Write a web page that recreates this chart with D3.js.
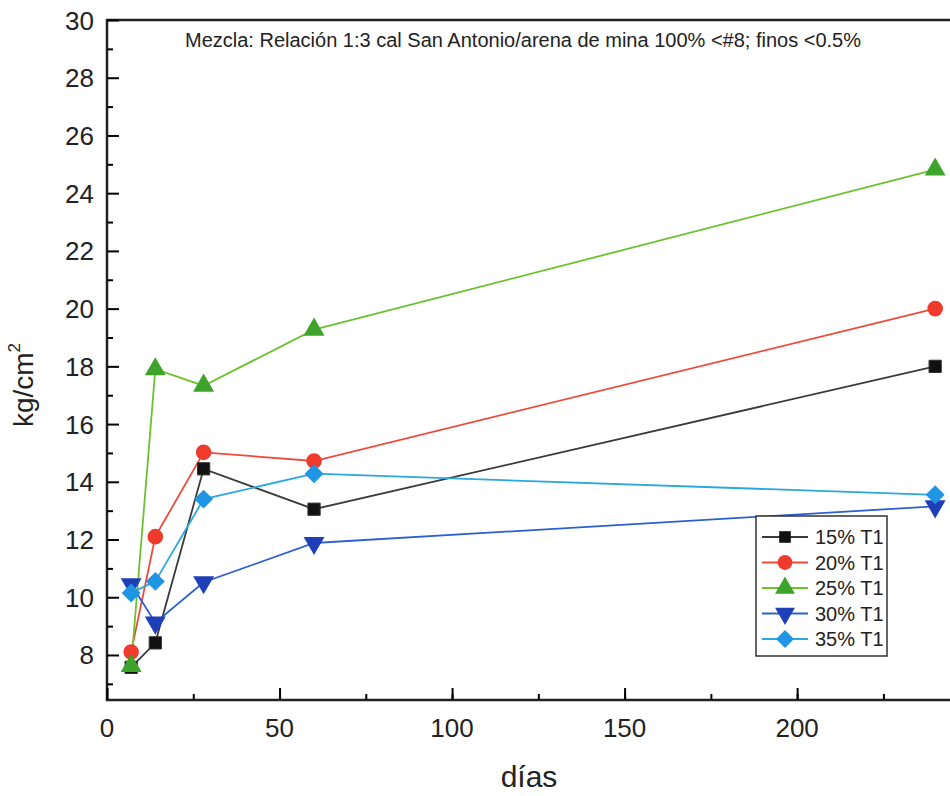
<!DOCTYPE html>
<html>
<head>
<meta charset="utf-8">
<script src="https://cdn.jsdelivr.net/npm/d3@7"></script>
<style>
  body { margin: 0; background: #fff; }
  text { font-family: "Liberation Sans", Arial, sans-serif; fill: #222; }
</style>
</head>
<body>
<div id="chart"></div>
<script>
// data
const dias = [7, 14, 28, 60, 240];
const seriesNames = ["15% T1", "20% T1", "25% T1", "30% T1", "35% T1"];
const s15 = [7.57, 8.42, 14.45, 13.05, 18.0];
const s20 = [8.1, 12.1, 15.02, 14.72, 20.0];
const s25 = [7.62, 17.9, 17.33, 19.27, 24.82];
const s30 = [10.45, 9.12, 10.52, 11.88, 13.15];
const s35 = [10.15, 10.55, 13.4, 14.28, 13.55];
const xTicks = [0, 50, 100, 150, 200];
const yTicks = [8, 10, 12, 14, 16, 18, 20, 22, 24, 26, 28, 30];

const width = 950, height = 796;
const padL = 107, padR = 950, padT = 20, padB = 700;

const svg = d3.select("#chart").append("svg")
  .attr("width", width).attr("height", height);

const x = d3.scaleLinear().domain([0, 244.3]).range([padL, padR]);
const y = d3.scaleLinear().domain([6.44, 30]).range([padB, padT]);

// frame (top + left + bottom lines)
svg.append("path")
  .attr("d", `M${padR},${padT}H${padL}V${padB}H${padR}`)
  .attr("fill", "none").attr("stroke", "#222").attr("stroke-width", 2.5);

// x axis: inward ticks
const xMin = svg.append("g").attr("transform", `translate(0,${padB})`);
xMin.call(d3.axisTop(x).tickValues(d3.range(25, 244, 25)).tickSize(6).tickFormat(""));
xMin.selectAll(".tick line").attr("stroke-width", 2);
const xMaj = svg.append("g").attr("transform", `translate(0,${padB})`);
xMaj.call(d3.axisTop(x).tickValues(xTicks).tickSize(12).tickFormat(""));
xMaj.selectAll(".tick line").attr("stroke-width", 2);
svg.append("g").selectAll("text").data(xTicks).join("text")
  .attr("x", d => x(d)).attr("y", padB + 37)
  .attr("text-anchor", "middle").attr("font-size", 26)
  .text(d => d);

// y axis: inward ticks
const yMin = svg.append("g").attr("transform", `translate(${padL},0)`);
yMin.call(d3.axisRight(y).tickValues(d3.range(7, 30, 2)).tickSize(6).tickFormat(""));
yMin.selectAll(".tick line").attr("stroke-width", 2);
const yMaj = svg.append("g").attr("transform", `translate(${padL},0)`);
yMaj.call(d3.axisRight(y).tickValues(yTicks).tickSize(12).tickFormat(""));
yMaj.selectAll(".tick line").attr("stroke-width", 2);
svg.selectAll(".domain").remove();
svg.append("g").selectAll("text").data(yTicks).join("text")
  .attr("x", padL - 13).attr("y", d => y(d) + 9.5)
  .attr("text-anchor", "end").attr("font-size", 26)
  .text(d => d);

// axis titles
svg.append("text")
  .attr("transform", "translate(33,385) rotate(-90)")
  .attr("text-anchor", "middle").attr("font-size", 28)
  .html('kg/cm<tspan dy="-13" font-size="17">2</tspan>');
svg.append("text")
  .attr("x", 529).attr("y", 787)
  .attr("text-anchor", "middle").attr("font-size", 30)
  .text("días");

// note
svg.append("text")
  .attr("x", 523).attr("y", 47)
  .attr("text-anchor", "middle").attr("font-size", 20)
  .text("Mezcla: Relación 1:3 cal San Antonio/arena de mina 100% <#8; finos <0.5%");

const series = [
  { name: seriesNames[0], values: s15, line: "#3a3a3a", fill: "#111", shape: d3.symbolSquare, size: 150, rot: 0 },
  { name: seriesNames[1], values: s20, line: "#ee4a3c", fill: "#ef3a2c", shape: d3.symbolCircle, size: 190, rot: 0 },
  { name: seriesNames[2], values: s25, line: "#6cc12e", fill: "#3ea32a", shape: d3.symbolTriangle, size: 190, rot: 0 },
  { name: seriesNames[3], values: s30, line: "#2d5fd0", fill: "#1f3fb8", shape: d3.symbolTriangle, size: 190, rot: 180 },
  { name: seriesNames[4], values: s35, line: "#2aa6e0", fill: "#1e96e4", shape: d3.symbolSquare, size: 180, rot: 45 }
];

const line = d3.line().x(d => x(d[0])).y(d => y(d[1]));

series.forEach(s => {
  const pts = dias.map((d, i) => [d, s.values[i]]);
  svg.append("path")
    .attr("d", line(pts))
    .attr("fill", "none").attr("stroke", s.line).attr("stroke-width", 1.8);
});
series.forEach(s => {
  const pts = dias.map((d, i) => [d, s.values[i]]);
  svg.append("g").selectAll("path").data(pts).join("path")
    .attr("d", d3.symbol().type(s.shape).size(s.size))
    .attr("transform", d => `translate(${x(d[0])},${y(d[1])}) rotate(${s.rot})`)
    .attr("fill", s.fill).attr("stroke", "#333").attr("stroke-width", s.shape === d3.symbolSquare && s.rot === 0 ? 1 : 0);
});

// legend
const lg = svg.append("g");
lg.append("rect")
  .attr("x", 756).attr("y", 516).attr("width", 131).attr("height", 140)
  .attr("fill", "#fff").attr("stroke", "#333").attr("stroke-width", 1.5);
series.forEach((s, i) => {
  const ly = 537 + i * 25.5;
  lg.append("line")
    .attr("x1", 762).attr("x2", 808).attr("y1", ly).attr("y2", ly)
    .attr("stroke", s.line).attr("stroke-width", 1.8);
  lg.append("path")
    .attr("d", d3.symbol().type(s.shape).size(s.size * 0.9))
    .attr("transform", `translate(785,${ly}) rotate(${s.rot})`)
    .attr("fill", s.fill);
  lg.append("text")
    .attr("x", 815).attr("y", ly + 7)
    .attr("font-size", 20)
    .text(s.name);
});
</script>
</body>
</html>
